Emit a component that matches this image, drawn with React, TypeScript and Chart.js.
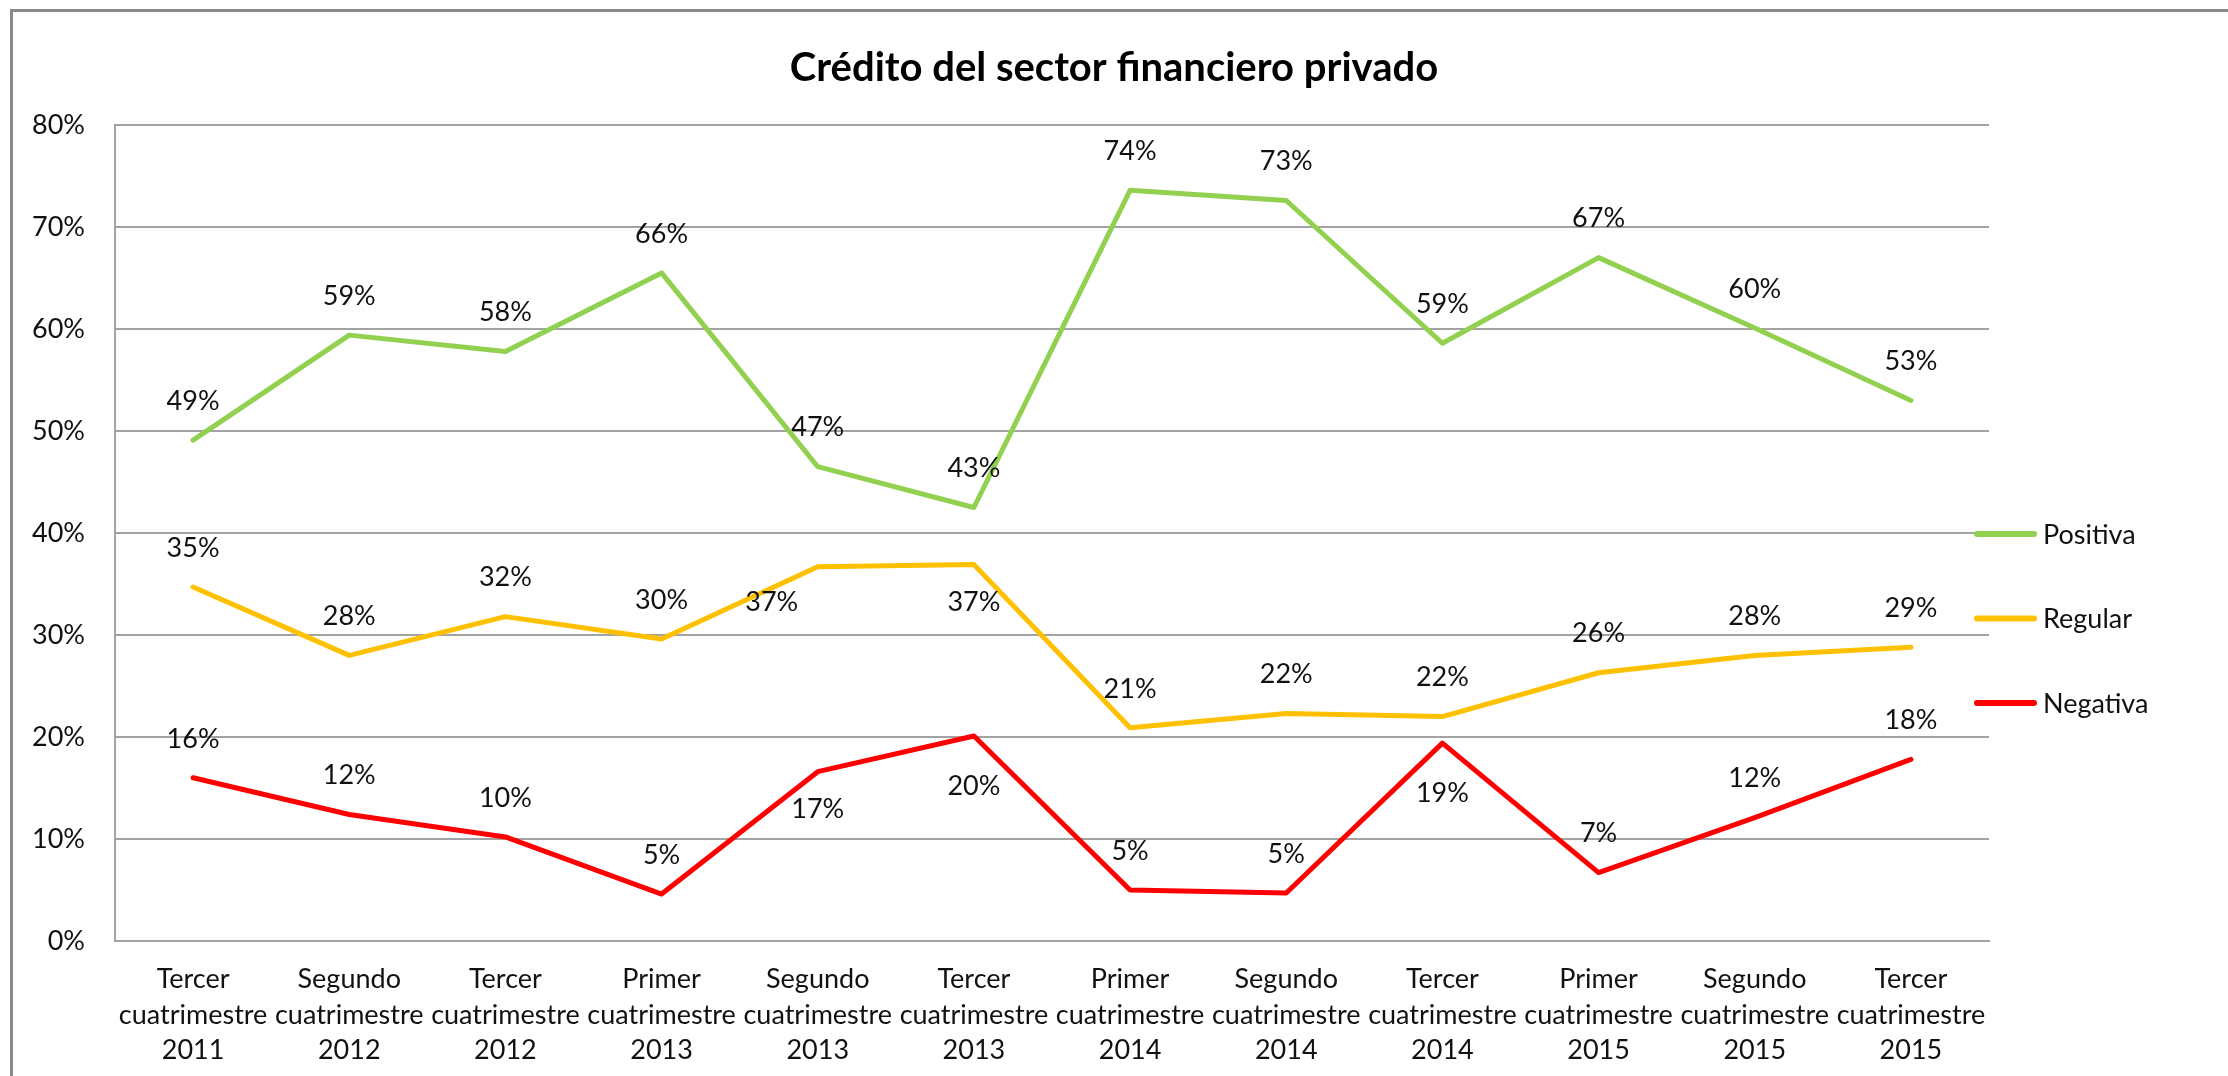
import React, { useEffect, useRef } from 'react';
import { Chart, registerables } from 'chart.js';

Chart.register(...registerables);

// ---------- data ----------
const categories: string[][] = [
  ['Tercer', 'cuatrimestre', '2011'],
  ['Segundo', 'cuatrimestre', '2012'],
  ['Tercer', 'cuatrimestre', '2012'],
  ['Primer', 'cuatrimestre', '2013'],
  ['Segundo', 'cuatrimestre', '2013'],
  ['Tercer', 'cuatrimestre', '2013'],
  ['Primer', 'cuatrimestre', '2014'],
  ['Segundo', 'cuatrimestre', '2014'],
  ['Tercer', 'cuatrimestre', '2014'],
  ['Primer', 'cuatrimestre', '2015'],
  ['Segundo', 'cuatrimestre', '2015'],
  ['Tercer', 'cuatrimestre', '2015'],
];

const positiva = [49.1, 59.4, 57.8, 65.5, 46.5, 42.5, 73.6, 72.6, 58.6, 67.0, 60.1, 53.0];
const regular = [34.7, 28.0, 31.8, 29.6, 36.7, 36.9, 20.9, 22.3, 22.0, 26.3, 28.0, 28.8];
const negativa = [16.0, 12.4, 10.2, 4.6, 16.6, 20.1, 5.0, 4.7, 19.4, 6.7, 12.1, 17.8];

const seriesNames = ['Positiva', 'Regular', 'Negativa'];
const yTicks = [0, 10, 20, 30, 40, 50, 60, 70, 80];
const title = 'Crédito del sector financiero privado';

// where each value label sits relative to its point: a = above, b = below, bb = further below, bl = below-left
const labelPlacement: string[][] = [
  ['a', 'a', 'a', 'a', 'a', 'a', 'a', 'a', 'a', 'a', 'a', 'a'],
  ['a', 'a', 'a', 'a', 'bl', 'b', 'a', 'a', 'a', 'a', 'a', 'a'],
  ['a', 'a', 'a', 'a', 'b', 'bb', 'a', 'a', 'bb', 'a', 'a', 'a'],
];

// ---------- styles ----------
const COLORS = ['#92D050', '#FFC000', '#FF0000'];
const FONT = 'Lato, "Open Sans", sans-serif';
const TEXT = '#111111';
const GRID = '#a3a3a3';
const FS = 27;

const valueLabels = {
  id: 'valueLabels',
  afterDatasetsDraw(chart: any) {
    const ctx = chart.ctx;
    ctx.save();
    ctx.font = `${FS}px ${FONT}`;
    ctx.fillStyle = TEXT;
    ctx.textAlign = 'center';
    ctx.textBaseline = 'middle';
    chart.data.datasets.forEach((ds: any, di: number) => {
      const meta = chart.getDatasetMeta(di);
      meta.data.forEach((pt: any, i: number) => {
        const v = ds.data[i];
        const p = labelPlacement[di][i];
        let dx = 0;
        let dy = -39;
        if (p === 'b') dy = 38;
        if (p === 'bb') dy = 50;
        if (p === 'bl') { dy = 36; dx = -46; }
        ctx.fillText(`${Math.round(v)}%`, pt.x + dx, pt.y + dy);
      });
    });
    ctx.restore();
  },
};

const sideLegend = {
  id: 'sideLegend',
  afterDraw(chart: any) {
    const { ctx, chartArea } = chart;
    ctx.save();
    chart.data.datasets.forEach((ds: any, i: number) => {
      const y = 534 + i * 84.5;
      ctx.strokeStyle = ds.borderColor;
      ctx.lineWidth = 6;
      ctx.lineCap = 'round';
      ctx.beginPath();
      ctx.moveTo(chartArea.right - 12, y);
      ctx.lineTo(chartArea.right + 45, y);
      ctx.stroke();
      ctx.fillStyle = TEXT;
      ctx.font = `${FS}px ${FONT}`;
      ctx.textAlign = 'left';
      ctx.textBaseline = 'middle';
      ctx.fillText(ds.label, chartArea.right + 54, y + 1);
    });
    ctx.restore();
  },
};

export default function App() {
  const ref = useRef<HTMLCanvasElement | null>(null);

  useEffect(() => {
    if (!ref.current) return;
    const seriesData = [positiva, regular, negativa];
    const chart = new Chart(ref.current, {
      type: 'line',
      data: {
        labels: categories,
        datasets: seriesData.map((d, i) => ({
          label: seriesNames[i],
          data: d,
          borderColor: COLORS[i],
          backgroundColor: COLORS[i],
          borderWidth: 5,
          borderCapStyle: 'round',
          borderJoinStyle: 'round',
          pointRadius: 0,
          pointHoverRadius: 0,
          tension: 0,
          fill: false,
        })),
      },
      options: {
        animation: false,
        responsive: true,
        maintainAspectRatio: false,
        layout: { padding: 0 },
        plugins: {
          legend: { display: false },
          tooltip: { enabled: false },
          title: {
            display: true,
            text: title,
            color: '#000',
            font: { family: FONT, size: 40, weight: 'bold', lineHeight: 1.2 },
            padding: { top: 44, bottom: 33 },
          },
        },
        scales: {
          x: {
            type: 'category',
            offset: true,
            grid: { display: false, drawTicks: false },
            border: { display: true, color: GRID, width: 2 },
            ticks: {
              autoSkip: false,
              maxRotation: 0,
              minRotation: 0,
              padding: 21,
              color: TEXT,
              font: { family: FONT, size: FS, lineHeight: 1.315 },
            },
            afterFit(scale: any) { scale.height = 135; },
          },
          y: {
            min: 0,
            max: 80,
            afterBuildTicks(scale: any) { scale.ticks = yTicks.map((v) => ({ value: v })); },
            grid: { color: GRID, lineWidth: 2, drawTicks: false },
            border: { display: true, color: GRID, width: 2 },
            ticks: {
              padding: 30,
              color: TEXT,
              font: { family: FONT, size: FS },
              callback: (v: any) => `${v}%`,
            },
            afterFit(scale: any) { scale.width = 115; },
          },
          yRight: {
            position: 'right',
            display: true,
            grid: { display: false, drawTicks: false },
            border: { display: false },
            ticks: { display: false },
            afterFit(scale: any) { scale.width = 239; },
          },
        },
      } as any,
      plugins: [valueLabels, sideLegend],
    });
    return () => chart.destroy();
  }, []);

  return (
    <div style={{ position: 'absolute', left: 0, top: 0, width: 2228, height: 1076, overflow: 'hidden', background: '#fff' }}>
      <div
        style={{
          position: 'absolute', left: 10, top: 9, width: 2400, height: 1200,
          borderLeft: '3px solid #8a8a8a', borderTop: '3px solid #8a8a8a',
        }}
      />
      <div style={{ position: 'absolute', left: 0, top: 0, width: 2228, height: 1076 }}>
        <canvas ref={ref} />
      </div>
    </div>
  );
}
